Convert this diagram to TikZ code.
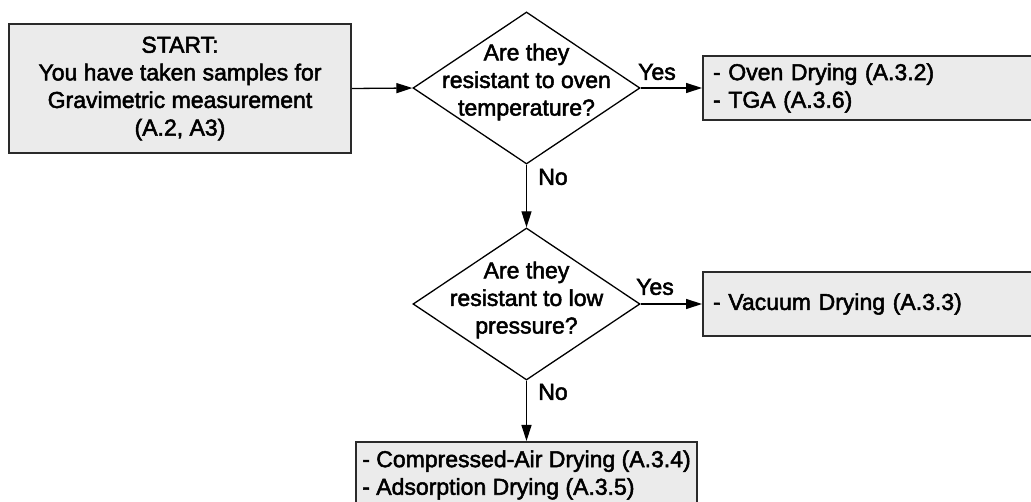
\documentclass[tikz,border=0pt]{standalone}
\usepackage{fontspec}
\setmainfont{Liberation Sans}[BoldFont=Liberation Sans, BoldFeatures={FakeBold=2.2}]
\usetikzlibrary{shapes.geometric,arrows.meta}
\definecolor{boxfill}{HTML}{EBEBEB}
\definecolor{boxline}{HTML}{2A2A2A}
\tikzset{
  every node/.style={font=\fontsize{23}{27.6}\selectfont\bfseries, text=black},
  box/.style={draw=boxline, line width=2pt, fill=boxfill, rectangle, inner sep=0pt},
  leftbox/.style={box, align=left, inner xsep=10pt},
  decision/.style={draw=black, line width=1.3pt, diamond, inner sep=0pt,
    minimum width=227pt, minimum height=152pt},
  qtext/.style={align=center, inner sep=0pt},
  lbl/.style={inner sep=0pt},
  flow/.style={draw=black, line width=1.3pt, -{Triangle[length=16pt,width=10pt]}},
}
\begin{document}
\begin{tikzpicture}[x=1pt,y=-1pt]
\useasboundingbox (0,0) rectangle (1031,502);
% start
\node[box, align=center, minimum width=342pt, minimum height=129pt] (start) at (180,88.5)
  {START:\\You have taken samples for\\Gravimetric measurement\\(A.2, A3)};
% decisions
\node[decision] (d1) at (526.5,88) {};
\node[qtext] (d1t) at (526.5,82) {Are they\\resistant to oven\\temperature?};
\node[decision] (d2) at (526.5,304) {};
\node[qtext] (d2t) at (526.5,300) {Are they\\resistant to low\\pressure?};
% result boxes
\node[leftbox, anchor=west, text width=330pt, minimum height=64pt] (r1) at (702,88)
  {- Oven Drying (A.3.2)\\- TGA (A.3.6)};
\node[leftbox, anchor=west, text width=330pt, minimum height=64pt] (r2) at (702,304)
  {- Vacuum Drying (A.3.3)};
\node[box, align=left, anchor=north, minimum width=341pt, minimum height=66pt] (r3) at (526.5,441)
  {- Compressed-Air Drying (A.3.4)\\- Adsorption Drying (A.3.5)};
% connectors
\draw[flow] (start.east) -- (d1.west);
\draw[flow] (d1.east) -- (r1.west);
\draw[flow] (d1.south) -- (d2.north);
\draw[flow] (d2.east) -- (r2.west);
\draw[flow] (d2.south) -- (r3.north);
% labels
\node[lbl] (y1) at (657,72) {Yes};
\node[lbl] (n1) at (553,177) {No};
\node[lbl] (y2) at (655,287) {Yes};
\node[lbl] (n2) at (553,392) {No};
\end{tikzpicture}
\end{document}
